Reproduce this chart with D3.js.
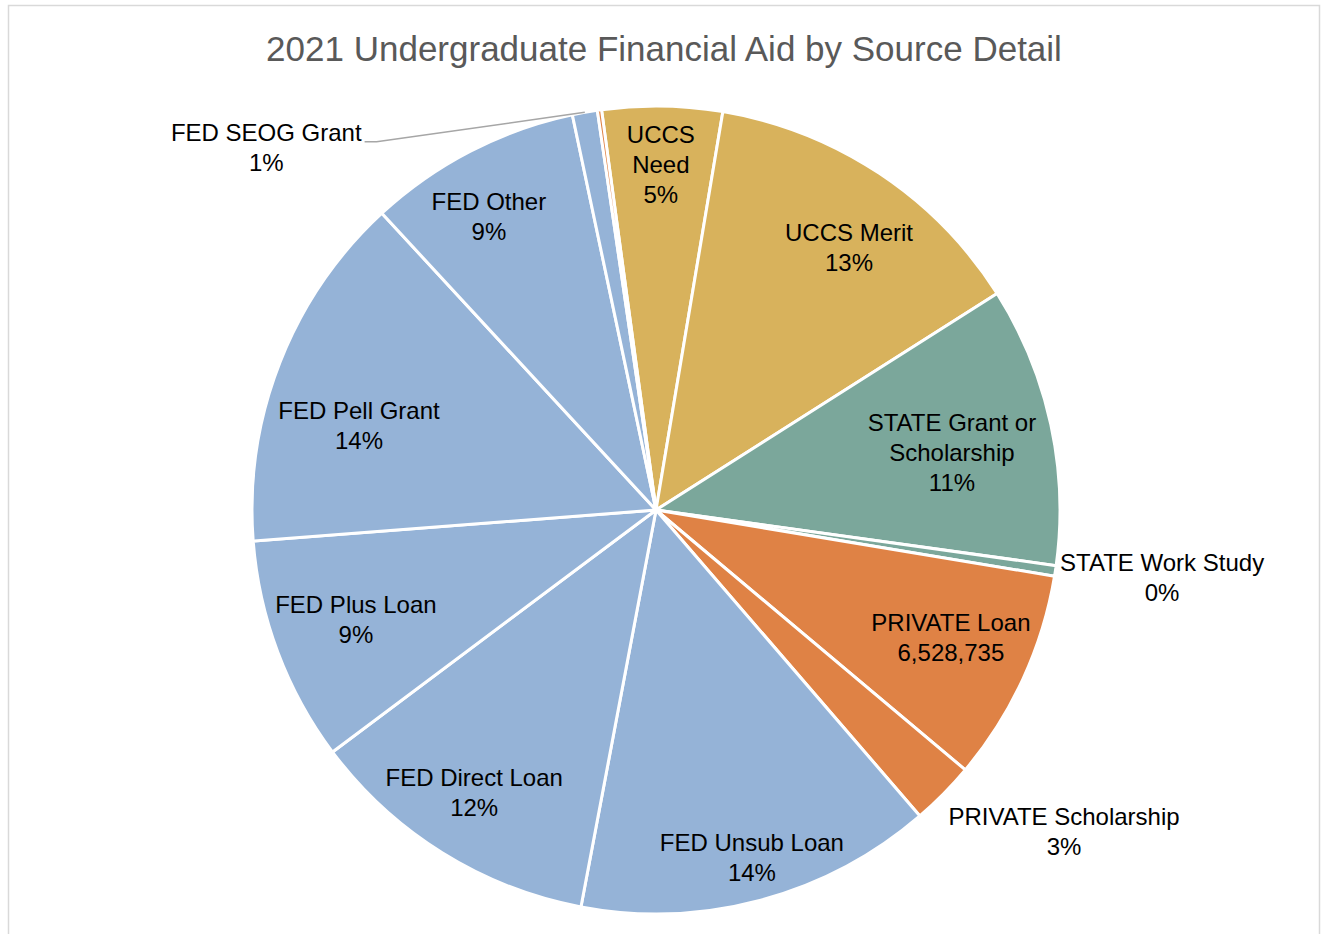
<!DOCTYPE html>
<html>
<head>
<meta charset="utf-8">
<script src="https://cdn.jsdelivr.net/npm/d3@7"></script>
<style>
  html, body { margin: 0; padding: 0; background: #ffffff; }
  svg { display: block; }
</style>
</head>
<body>
<svg id="chart" width="1322" height="934"></svg>
<script>
// Aid sources, clockwise from the top of the pie
const sources = [
  "UCCS Need", "UCCS Merit", "STATE Grant or Scholarship", "STATE Work Study",
  "PRIVATE Loan", "PRIVATE Scholarship", "FED Unsub Loan", "FED Direct Loan",
  "FED Plus Loan", "FED Pell Grant", "FED Other", "FED SEOG Grant", "PRIVATE Other"
];
// Dollars awarded per source
const amounts = [
  3686815, 10253954, 8602568, 322596,
  6528735, 1958620, 10983636, 9063420,
  6912778, 11022041, 6567139, 768086, 128000
];
// Funding group of each source (drives slice colour)
const groups = [
  "UCCS", "UCCS", "STATE", "STATE",
  "PRIVATE", "PRIVATE", "FED", "FED",
  "FED", "FED", "FED", "FED", "PRIVATE"
];

const title = "2021 Undergraduate Financial Aid by Source Detail";

// ---- styling / layout ----
const W = 1322, H = 934;
const cx = 656, cy = 510, R = 404;
const startDeg = -7.75;
const groupColor = {
  FED: "#95b3d7",
  UCCS: "#d8b25c",
  STATE: "#7ba79b",
  PRIVATE: "#df8245"
};
// Label anchor in polar terms: r as a fraction of the radius, a in degrees clockwise from 12 o'clock
const labelPlacement = {
  "UCCS Need": { r: 0.854, a: 0.8 },
  "UCCS Merit": { r: 0.805, a: 36.4 },
  "STATE Grant or Scholarship": { r: 0.746, a: 79.1 },
  "STATE Work Study": { r: 1.264, a: 97.65 },
  "PRIVATE Loan": { r: 0.796, a: 113.5 },
  "PRIVATE Scholarship": { r: 1.287, a: 128.3 },
  "FED Unsub Loan": { r: 0.894, a: 164.6 },
  "FED Direct Loan": { r: 0.833, a: 212.7 },
  "FED Plus Loan": { r: 0.791, a: 249.9 },
  "FED Pell Grant": { r: 0.764, a: 285.8 },
  "FED Other": { r: 0.835, a: 330.3 },
  "FED SEOG Grant": { r: 1.317, a: 312.9, leader: true }
};
// Names that break over several lines
const wrapLines = {
  "UCCS Need": ["UCCS", "Need"],
  "STATE Grant or Scholarship": ["STATE Grant or", "Scholarship"]
};
// Sources whose label shows the dollar amount instead of the share
const showAmount = new Set(["PRIVATE Loan"]);

const svg = d3.select("#chart");
const FONT = "'Liberation Sans', Arial, sans-serif";

svg.append("rect").attr("width", W).attr("height", H).attr("fill", "#ffffff");
svg.append("rect")
  .attr("x", 8.5).attr("y", 5.5).attr("width", 1311).attr("height", 960)
  .attr("fill", "none").attr("stroke", "#d9d9d9").attr("stroke-width", 1.5);

svg.append("text")
  .attr("x", 664).attr("y", 61)
  .attr("text-anchor", "middle")
  .attr("font-family", FONT).attr("font-size", 35)
  .attr("fill", "#595959")
  .text(title);

const rows = sources.map((s, i) => ({ name: s, value: amounts[i], group: groups[i] }));
const total = d3.sum(amounts);

const toRad = d => d * Math.PI / 180;
const pie = d3.pie().sort(null).value(d => d.value)
  .startAngle(toRad(startDeg)).endAngle(toRad(startDeg + 360));
const arc = d3.arc().innerRadius(0).outerRadius(R);
const arcs = pie(rows);

const g = svg.append("g").attr("transform", `translate(${cx},${cy})`);

g.selectAll("path.slice")
  .data(arcs)
  .join("path")
  .attr("class", "slice")
  .attr("d", arc)
  .attr("fill", d => groupColor[d.data.group])
  .attr("stroke", "#ffffff")
  .attr("stroke-width", 3)
  .attr("stroke-linejoin", "round");

const pct = d3.format(".0%");
const num = d3.format(",");
const polar = (r, deg) => [r * Math.sin(toRad(deg)), -r * Math.cos(toRad(deg))];

const lineH = 30, fontSize = 24;
arcs.forEach(d => {
  const place = labelPlacement[d.data.name];
  if (!place) return;
  const lines = (wrapLines[d.data.name] || [d.data.name]).slice();
  lines.push(showAmount.has(d.data.name) ? num(d.data.value) : pct(d.data.value / total));
  const [lx, ly] = polar(place.r * R, place.a);
  const top = ly - (lines.length - 1) * lineH / 2;
  const t = g.append("text")
    .attr("font-family", FONT).attr("font-size", fontSize)
    .attr("fill", "#000000")
    .attr("text-anchor", "middle");
  lines.forEach((ln, k) => {
    t.append("tspan")
      .attr("x", lx).attr("y", top + k * lineH + 8.2)
      .text(ln);
  });
  if (place.leader) {
    const firstW = t.select("tspan").node().getComputedTextLength();
    const x0 = lx + firstW / 2 + 3;
    const y0 = top + 9;
    const mid = (d.startAngle + d.endAngle) / 2;
    const ex = R * Math.sin(mid), ey = -R * Math.cos(mid);
    g.append("path")
      .attr("d", d3.line()([[x0, y0], [x0 + 12, y0], [ex, ey]]))
      .attr("fill", "none")
      .attr("stroke", "#a6a6a6")
      .attr("stroke-width", 1.5);
  }
});
</script>
</body>
</html>
